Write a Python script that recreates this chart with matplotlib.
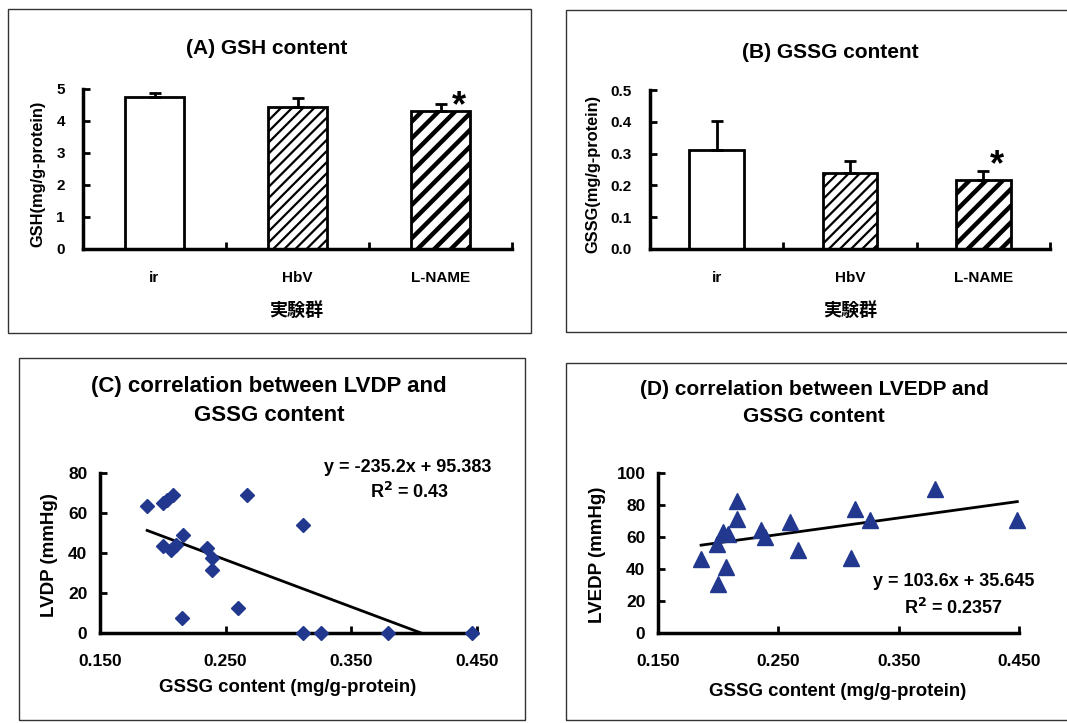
import numpy as np
import matplotlib
matplotlib.use("Agg")
import matplotlib.pyplot as plt
from matplotlib.patches import Rectangle

plt.rcParams['font.family'] = ['Liberation Sans', 'Noto Sans CJK JP', 'DejaVu Sans']
plt.rcParams['font.weight'] = 'bold'

# --- data -------------------------------------------------------------
groups = ['ir', 'HbV', 'L-NAME']
gsh_mean = [4.74, 4.43, 4.32]
gsh_err = [0.13, 0.29, 0.21]
gssg_mean = [0.312, 0.240, 0.216]
gssg_err = [0.091, 0.038, 0.030]

# (C) LVDP vs GSSG
lvdp_x = [0.1875, 0.2001, 0.2033, 0.2080, 0.2001, 0.2067, 0.2104, 0.2157, 0.2152,
          0.2355, 0.2389, 0.2389, 0.2600, 0.2666, 0.3117, 0.3117, 0.3255, 0.3793, 0.4457]
lvdp_y = [63.3, 65.0, 66.3, 68.8, 43.3, 41.7, 43.8, 48.8, 7.5,
          42.5, 37.5, 31.3, 12.5, 68.8, 53.8, 0.0, 0.0, 0.0, 0.0]
lvdp_fit = (-235.2, 95.383)
lvdp_r2 = 0.43

# (D) LVEDP vs GSSG
lvedp_x = [0.1858, 0.2001, 0.2069, 0.1993, 0.2042, 0.2083, 0.2156, 0.2156, 0.2354,
           0.2386, 0.2598, 0.2665, 0.3106, 0.3139, 0.3264, 0.3800, 0.4486]
lvedp_y = [46.3, 30.9, 41.5, 55.8, 63.2, 61.7, 82.5, 71.2, 64.6,
           60.0, 69.5, 51.6, 47.0, 77.7, 70.4, 89.8, 70.4]
lvedp_fit = (103.6, 35.645)
lvedp_r2 = 0.2357

NAVY = '#22388f'
W, H = 1067, 723
fig = plt.figure(figsize=(W / 100, H / 100), dpi=100)


def add_ax(l, t, r, b):
    return fig.add_axes([l / W, 1 - b / H, (r - l) / W, (b - t) / H])


def ftext(x, y, s, **kw):
    kw.setdefault('ha', 'center')
    kw.setdefault('va', 'center')
    fig.text(x / W, 1 - y / H, s, **kw)


def box(l, t, r, b):
    fig.patches.append(Rectangle((l / W, 1 - b / H), (r - l) / W, (b - t) / H,
                                 transform=fig.transFigure, fill=False,
                                 lw=1.0, ec='#333333'))


def style_spines(ax):
    for s in ['top', 'right']:
        ax.spines[s].set_visible(False)
    for s in ['left', 'bottom']:
        ax.spines[s].set_linewidth(2.5)


def bar_panel(ax, means, errs, ymax, ystep, yfmt, star_off):
    x = np.arange(len(groups)) + 0.5
    bars = ax.bar(x, means, width=0.41, color='white', edgecolor='black', linewidth=2, zorder=2)
    for bar, hatch, hlw in zip(bars, [None, '///', '//'], [1.0, 1.6, 3.2]):
        if hatch:
            bar.set_hatch(hatch)
            if hasattr(bar, 'set_hatch_linewidth'):
                bar.set_hatch_linewidth(hlw)
    ax.errorbar(x, means, yerr=[np.zeros(len(errs)), errs], fmt='none', ecolor='black',
                elinewidth=2, capsize=4.5, capthick=2, zorder=3)
    # significance mark on L-NAME
    ax.annotate('*', xy=(x[2], means[2] + errs[2]), xytext=star_off,
                textcoords='offset points', fontsize=26, ha='center', va='baseline')
    ax.set_xlim(0, len(groups))
    ax.set_ylim(0, ymax)
    style_spines(ax)
    ax.set_xticks(np.arange(1, len(groups) + 1))
    ax.set_xticklabels([])
    ax.tick_params(axis='x', which='major', direction='in', length=5, width=2)
    ax.set_xticks(x, minor=True)
    ax.set_xticklabels(groups, minor=True)
    ax.tick_params(axis='x', which='minor', length=0, pad=16, labelsize=11)
    yt = np.arange(0, ymax + ystep / 2, ystep)
    ax.set_yticks(yt)
    ax.set_yticklabels([yfmt.format(v) for v in yt])
    ax.tick_params(axis='y', direction='in', length=5, width=2, pad=13, labelsize=11)


def scatter_panel(ax, xs, ys, marker, ms, fit, ymax, ystep):
    ax.plot(xs, ys, linestyle='none', marker=marker, ms=ms, color=NAVY, mec=NAVY,
            clip_on=False, zorder=3)
    a, b = fit
    x0 = min(xs)
    x1 = max(xs)
    if a * x1 + b < 0:
        x1 = -b / a
    xl = np.array([x0, x1])
    ax.plot(xl, a * xl + b, color='black', lw=2, zorder=2)
    ax.set_xlim(0.15, 0.45)
    ax.set_ylim(0, ymax)
    style_spines(ax)
    xt = [0.15, 0.25, 0.35, 0.45]
    ax.set_xticks(xt)
    ax.set_xticklabels(['{:.3f}'.format(v) for v in xt])
    ax.set_yticks(np.arange(0, ymax + 1, ystep))
    ax.tick_params(axis='x', direction='in', length=5, width=2, pad=15, labelsize=12.5)
    ax.tick_params(axis='y', direction='in', length=5, width=2, pad=9, labelsize=12.5)


# --- panel boxes ------------------------------------------------------
box(8, 9, 531, 333)
box(566, 10, 1075, 332)
box(19, 358, 525, 720)
box(566, 363, 1075, 720)

# --- (A) GSH ----------------------------------------------------------
axA = add_ax(83, 89, 512, 249)
bar_panel(axA, gsh_mean, gsh_err, 5, 1, '{:.0f}', (13, -9))
ftext(267, 48, '(A) GSH content', fontsize=15)
ftext(38, 174, 'GSH(mg/g-protein)', fontsize=11.8, rotation=90)
ftext(296, 310, '実験群', fontsize=13, family=['Noto Sans CJK JP'])

# --- (B) GSSG ---------------------------------------------------------
axB = add_ax(650, 90, 1050, 249)
bar_panel(axB, gssg_mean, gssg_err, 0.5, 0.1, '{:.1f}', (10, -3))
ftext(830, 53, '(B) GSSG content', fontsize=15)
ftext(593, 174, 'GSSG(mg/g-protein)', fontsize=11.8, rotation=90)
ftext(850, 310, '実験群', fontsize=13, family=['Noto Sans CJK JP'])

# --- (C) LVDP ---------------------------------------------------------
axC = add_ax(100, 473, 477, 633)
scatter_panel(axC, lvdp_x, lvdp_y, 'D', 7.3, lvdp_fit, 80, 20)
ftext(269, 401, '(C) correlation between LVDP and\nGSSG content', fontsize=16,
      linespacing=1.45)
ftext(50, 555, 'LVDP (mmHg)', fontsize=13.5, rotation=90)
ftext(288, 688, 'GSSG content (mg/g-protein)', fontsize=13.4)
ftext(408, 467, 'y = -235.2x + 95.383', fontsize=13)
ftext(410, 492, 'R$^{2}$ = ' + '{:g}'.format(lvdp_r2), fontsize=13)

# --- (D) LVEDP --------------------------------------------------------
axD = add_ax(658, 473, 1019, 633)
scatter_panel(axD, lvedp_x, lvedp_y, '^', 11, lvedp_fit, 100, 20)
ftext(814, 403, '(D) correlation between LVEDP and\nGSSG content', fontsize=15,
      linespacing=1.55)
ftext(598, 555, 'LVEDP (mmHg)', fontsize=13.5, rotation=90)
ftext(838, 692, 'GSSG content (mg/g-protein)', fontsize=13.4)
ftext(954, 582, 'y = 103.6x + 35.645', fontsize=13)
ftext(954, 608, 'R$^{2}$ = ' + '{:g}'.format(lvedp_r2), fontsize=13)

fig.savefig('out.png', dpi=100)
